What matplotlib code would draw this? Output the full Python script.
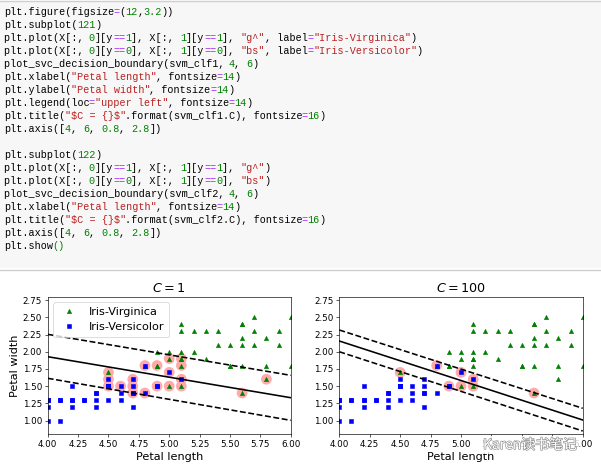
import re
import matplotlib
matplotlib.use("Agg")
import matplotlib.pyplot as plt
import matplotlib.patheffects as pe
from matplotlib.patches import Rectangle
from matplotlib.lines import Line2D

# ---------------- data ----------------
code_lines = [
    'plt.figure(figsize=(12,3.2))',
    'plt.subplot(121)',
    'plt.plot(X[:, 0][y==1], X[:, 1][y==1], "g^", label="Iris-Virginica")',
    'plt.plot(X[:, 0][y==0], X[:, 1][y==0], "bs", label="Iris-Versicolor")',
    'plot_svc_decision_boundary(svm_clf1, 4, 6)',
    'plt.xlabel("Petal length", fontsize=14)',
    'plt.ylabel("Petal width", fontsize=14)',
    'plt.legend(loc="upper left", fontsize=14)',
    'plt.title("$C = {}$".format(svm_clf1.C), fontsize=16)',
    'plt.axis([4, 6, 0.8, 2.8])',
    '',
    'plt.subplot(122)',
    'plt.plot(X[:, 0][y==1], X[:, 1][y==1], "g^")',
    'plt.plot(X[:, 0][y==0], X[:, 1][y==0], "bs")',
    'plot_svc_decision_boundary(svm_clf2, 4, 6)',
    'plt.xlabel("Petal length", fontsize=14)',
    'plt.title("$C = {}$".format(svm_clf2.C), fontsize=16)',
    'plt.axis([4, 6, 0.8, 2.8])',
    'plt.show()',
]

virginica_length = [6.0, 5.1, 5.9, 5.6, 5.8, 4.5, 5.8, 5.1, 5.3, 5.5, 5.0, 5.1, 5.3, 5.5,
                    5.0, 5.7, 4.9, 4.9, 5.7, 6.0, 4.8, 4.9, 5.6, 5.8, 5.6, 5.1, 5.6, 5.6,
                    5.5, 4.8, 5.4, 5.6, 5.1, 5.1, 5.9, 5.7, 5.2, 5.0, 5.2, 5.4, 5.1]
virginica_width = [2.5, 1.9, 2.1, 1.8, 2.2, 1.7, 1.8, 2.0, 1.9, 2.1, 2.0, 2.4, 2.3, 1.8,
                   1.5, 2.3, 2.0, 1.8, 2.1, 1.8, 1.8, 1.8, 2.1, 1.6, 2.2, 1.5, 1.4, 2.4,
                   1.8, 1.8, 2.1, 2.4, 2.3, 1.9, 2.3, 2.5, 2.3, 1.9, 2.0, 2.3, 1.8]

versicolor_length = [4.7, 4.5, 4.9, 4.0, 4.6, 4.5, 4.7, 4.6, 4.2, 4.0, 4.7, 4.4, 4.5, 4.1,
                     4.5, 4.8, 4.0, 4.9, 4.7, 4.3, 4.4, 4.8, 5.0, 4.5, 5.1, 4.5, 4.5, 4.7,
                     4.4, 4.1, 4.0, 4.4, 4.6, 4.0, 4.2, 4.2, 4.2, 4.3, 4.1]
versicolor_width = [1.4, 1.5, 1.5, 1.3, 1.5, 1.3, 1.6, 1.3, 1.5, 1.0, 1.4, 1.4, 1.5, 1.0,
                    1.5, 1.8, 1.3, 1.5, 1.2, 1.3, 1.4, 1.4, 1.7, 1.5, 1.6, 1.5, 1.6, 1.5,
                    1.3, 1.3, 1.3, 1.2, 1.4, 1.2, 1.3, 1.2, 1.3, 1.3, 1.3]

# support vectors (highlighted)
sv1_length = [4.5, 4.5, 4.5, 4.6, 4.7, 4.7, 4.7, 4.8, 4.8, 4.9, 4.9, 5.0, 5.0, 5.0,
              5.1, 5.1, 5.1, 5.1, 5.6, 5.8]
sv1_width = [1.7, 1.6, 1.5, 1.5, 1.6, 1.5, 1.4, 1.8, 1.4, 1.8, 1.5, 1.9, 1.7, 1.5,
             1.9, 1.8, 1.6, 1.5, 1.4, 1.6]
sv2_length = [4.5, 4.8, 4.9, 5.0, 5.0, 5.1, 5.1, 5.6]
sv2_width = [1.7, 1.8, 1.5, 1.7, 1.5, 1.6, 1.5, 1.4]

# decision boundary and margins, evaluated at the x-limits
boundary_x = [4.0, 6.0]
svm1_boundary = [1.928, 1.332]
svm1_gutter_up = [2.253, 1.657]
svm1_gutter_down = [1.614, 1.003]
svm2_boundary = [2.156, 1.008]
svm2_gutter_up = [2.316, 1.178]
svm2_gutter_down = [2.000, 0.848]

titles = ["$C = 1$", "$C = 100$"]
xticks = [4.00, 4.25, 4.50, 4.75, 5.00, 5.25, 5.50, 5.75, 6.00]
yticks = [1.00, 1.25, 1.50, 1.75, 2.00, 2.25, 2.50, 2.75]

# ---------------- figure ----------------
W, H = 601, 472
fig = plt.figure(figsize=(W / 100, H / 100), dpi=100)
fig.patch.set_facecolor("white")

def fx(px):
    return px / W

def fy(py):
    return 1 - py / H

# code cell background
fig.add_artist(Rectangle((0, fy(268)), 1, fy(1) - fy(268), transform=fig.transFigure,
                         facecolor="#f7f7f7", edgecolor="none", zorder=0))
fig.add_artist(Line2D([0, 1], [fy(0.5), fy(0.5)], transform=fig.transFigure,
                      color="#cfcfcf", lw=1.0))
fig.add_artist(Line2D([0, 1], [fy(269.5), fy(269.5)], transform=fig.transFigure,
                      color="#cfcfcf", lw=1.0))

# code text (monospace, syntax coloured)
CHAR_W = 6.06
CODE_SIZE = CHAR_W / 0.6 * 0.72
COL_DEFAULT = "#000000"
COL_STR = "#BA2121"
COL_NUM = "#008000"
COL_OP = "#AA22FF"
token_re = re.compile(r'("[^"]*")|(\b\d+(?:\.\d+)?\b)|(==|=)')

def segments(line):
    segs = []
    pos = 0
    for m in token_re.finditer(line):
        if m.start() > pos:
            segs.append((pos, line[pos:m.start()], COL_DEFAULT))
        if m.group(1):
            col = COL_STR
        elif m.group(2):
            col = COL_NUM
        else:
            col = COL_OP
        segs.append((m.start(), m.group(0), col))
        pos = m.end()
    if pos < len(line):
        segs.append((pos, line[pos:], COL_DEFAULT))
    return segs

for i, line in enumerate(code_lines):
    base = 15.0 + 12.98 * i
    segs = segments(line)
    if line == 'plt.show()':
        segs = [(0, 'plt.show', COL_DEFAULT), (8, '()', COL_NUM)]
    for col, txt, color in segs:
        fig.text(fx(4 + col * CHAR_W), fy(base), txt, color=color,
                 fontsize=CODE_SIZE, family="Liberation Mono", va="baseline", ha="left",
                 parse_math=False)

# ---------------- charts ----------------
S = 0.576  # scale of the original 72-dpi output
ax_bottom = fy(434.3)
ax_h = fy(296.7) - fy(434.3)
ax1 = fig.add_axes([fx(47.7), ax_bottom, fx(243.0), ax_h])
ax2 = fig.add_axes([fx(339.3), ax_bottom, fx(243.4), ax_h])

models = [
    (ax1, sv1_length, sv1_width, svm1_boundary, svm1_gutter_up, svm1_gutter_down, titles[0]),
    (ax2, sv2_length, sv2_width, svm2_boundary, svm2_gutter_up, svm2_gutter_down, titles[1]),
]

MS = 3.1
MEW = 0.4
for k, (ax, svx, svy, db, up, down, title) in enumerate(models):
    if k == 0:
        ax.plot(virginica_length, virginica_width, "g^", ms=MS, mew=MEW, label="Iris-Virginica")
        ax.plot(versicolor_length, versicolor_width, "bs", ms=MS, mew=MEW, label="Iris-Versicolor")
    else:
        ax.plot(virginica_length, virginica_width, "g^", ms=MS, mew=MEW)
        ax.plot(versicolor_length, versicolor_width, "bs", ms=MS, mew=MEW)
    ax.scatter(svx, svy, s=180 * S * S, facecolors="#FFAAAA", edgecolors="none", zorder=1)
    ax.plot(boundary_x, db, "k-", lw=2 * S)
    ax.plot(boundary_x, up, "k--", lw=2 * S)
    ax.plot(boundary_x, down, "k--", lw=2 * S)
    ax.set_xlabel("Petal length", fontsize=14 * S, labelpad=4 * S)
    if k == 0:
        ax.set_ylabel("Petal width", fontsize=14 * S, labelpad=4 * S)
        ax.legend(loc="upper left", fontsize=14 * S, numpoints=1,
                  frameon=True).get_frame().set_linewidth(S)
    ax.set_title(title, fontsize=16 * S, pad=6 * S)
    ax.axis([4, 6, 0.8, 2.8])
    ax.set_xticks(xticks)
    ax.set_xticklabels(["%.2f" % v for v in xticks])
    ax.set_yticks(yticks)
    ax.set_yticklabels(["%.2f" % v for v in yticks])
    ax.tick_params(labelsize=11 * S, length=3.5 * S, width=0.8 * S, pad=3.5 * S)
    for sp in ax.spines.values():
        sp.set_linewidth(0.8 * S)

# watermark
fig.text(fx(483), fy(445), "Karen读书笔记", fontsize=10, color="white",
         family=["Noto Sans CJK SC", "DejaVu Sans"], ha="left", va="center",
         path_effects=[pe.withStroke(linewidth=0.9, foreground="#8a8a8a")],
         bbox=dict(facecolor="white", edgecolor="none", alpha=0.8, pad=1.5), zorder=10)

fig.savefig("out.png", dpi=100)
